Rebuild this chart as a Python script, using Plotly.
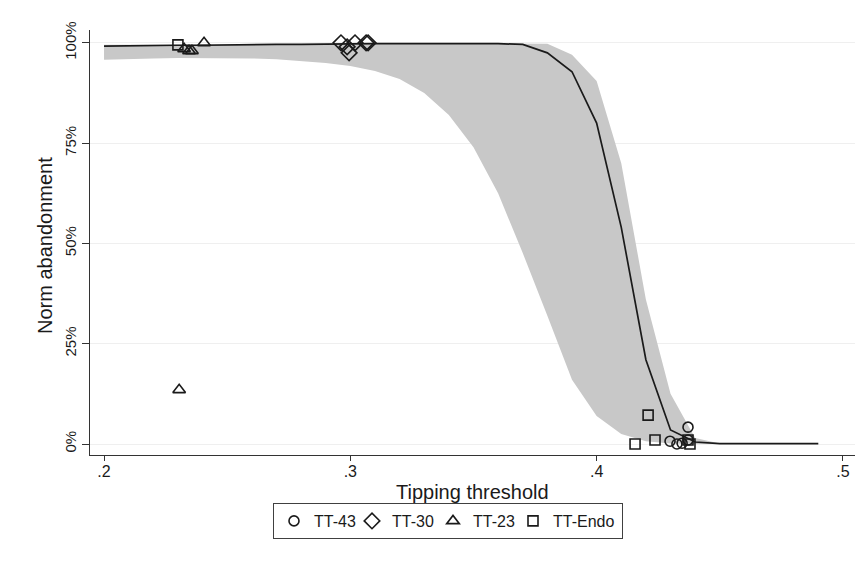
import plotly.graph_objects as go

# --- data -------------------------------------------------------------
grid_x = [0.20, 0.21, 0.22, 0.23, 0.24, 0.25, 0.26, 0.27, 0.28, 0.29,
          0.30, 0.31, 0.32, 0.33, 0.34, 0.35, 0.36, 0.37, 0.38, 0.39,
          0.40, 0.41, 0.42, 0.43, 0.44, 0.45, 0.46, 0.47, 0.48, 0.49]
fit_y = [99.2, 99.3, 99.3, 99.4, 99.4, 99.5, 99.5, 99.6, 99.6, 99.7,
         99.7, 99.8, 99.8, 99.8, 99.8, 99.8, 99.8, 99.6, 97.5, 92.8,
         80.0, 54.0, 21.0, 3.5, 0.5, 0.1, 0.1, 0.1, 0.1, 0.1]
band_hi = [99.5, 99.5, 99.6, 99.6, 99.6, 99.7, 99.7, 99.7, 99.8, 99.8,
           99.8, 99.9, 99.9, 99.9, 99.9, 99.9, 99.9, 99.9, 99.8, 97.0,
           90.5, 70.0, 36.0, 12.5, 1.5, 0.1, 0.0, 0.0, 0.0, 0.0]
band_lo = [95.8, 96.0, 96.1, 96.2, 96.2, 96.2, 96.1, 95.9, 95.5, 95.0,
           94.2, 93.0, 91.0, 87.5, 82.0, 74.0, 62.5, 47.6, 32.0, 16.0,
           7.0, 2.5, 0.7, 0.1, 0.0, 0.0, 0.0, 0.0, 0.0, 0.0]

tt43_x = [0.4298, 0.4326, 0.4347, 0.4371, 0.4371]
tt43_y = [0.7, 0.0, 0.2, 4.2, 1.0]
tt30_x = [0.2962, 0.2987, 0.2995, 0.3019, 0.3064, 0.3072]
tt30_y = [100.0, 99.0, 97.5, 100.0, 100.0, 100.0]
tt23_x = [0.2325, 0.2345, 0.2357, 0.2406, 0.2305]
tt23_y = [98.5, 98.0, 98.0, 100.0, 13.5]
endo_x = [0.2300, 0.4156, 0.4209, 0.4237, 0.4371, 0.4379]
endo_y = [99.5, 0.0, 7.2, 1.0, 1.0, 0.0]

x_ticks = [0.2, 0.3, 0.4, 0.5]
x_tick_labels = [".2", ".3", ".4", ".5"]
y_ticks = [0, 25, 50, 75, 100]
y_tick_labels = ["0%", "25%", "50%", "75%", "100%"]

FONT = "Liberation Sans, Arial, sans-serif"
INK = "#1a1a1a"

fig = go.Figure()

# confidence band
fig.add_trace(go.Scatter(x=grid_x, y=band_lo, mode="lines",
                         line=dict(width=0, color="#c8c8c8"),
                         showlegend=False, hoverinfo="skip"))
fig.add_trace(go.Scatter(x=grid_x, y=band_hi, mode="lines",
                         line=dict(width=0, color="#c8c8c8"),
                         fill="tonexty", fillcolor="#c8c8c8",
                         showlegend=False, hoverinfo="skip"))
# fitted line
fig.add_trace(go.Scatter(x=grid_x, y=fit_y, mode="lines",
                         line=dict(width=1.7, color=INK),
                         showlegend=False))

mk = dict(color=INK, width=1.6)
fig.add_trace(go.Scatter(x=tt43_x, y=tt43_y, mode="markers", name="TT-43", legendwidth=33,
                         marker=dict(symbol="circle-open", size=10, color=INK, line=mk)))
fig.add_trace(go.Scatter(x=tt30_x, y=tt30_y, mode="markers", name="TT-30", legendwidth=36,
                         marker=dict(symbol="diamond-open", size=12, color=INK, line=mk)))
fig.add_trace(go.Scatter(x=tt23_x, y=tt23_y, mode="markers", name="TT-23", legendwidth=35,
                         marker=dict(symbol="triangle-up-open", size=11, color=INK, line=mk)))
fig.add_trace(go.Scatter(x=endo_x, y=endo_y, mode="markers", name="TT-Endo", legendwidth=64,
                         marker=dict(symbol="square-open", size=10, color=INK, line=mk)))

L, R, T, B = 90, 13, 30, 129
W, H = 868, 584
ph = H - T - B
pw = W - L - R

fig.update_layout(
    width=W, height=H,
    margin=dict(l=L, r=R, t=T, b=B),
    paper_bgcolor="white", plot_bgcolor="white",
    font=dict(family=FONT, size=15, color=INK),
    legend=dict(orientation="h", traceorder="normal",
                x=(448 - L) / pw, xanchor="center",
                y=(H - B - 521) / ph, yanchor="middle",
                bordercolor="#404040", borderwidth=1,
                font=dict(size=16, family=FONT, color=INK),
                itemwidth=30, bgcolor="white"),
    xaxis=dict(range=[0.1943, 0.5049], tickvals=x_ticks, ticktext=x_tick_labels,
               showgrid=False, zeroline=False, showline=True, linecolor="#333333",
               linewidth=1, ticks="outside", ticklen=5, tickcolor="#333333",
               ticklabelstandoff=-3, tickfont=dict(size=16)),
    yaxis=dict(range=[-2.74, 103.2], tickvals=y_ticks, ticktext=y_tick_labels,
               showgrid=True, gridcolor="#efefef", gridwidth=1, zeroline=False,
               showline=True, linecolor="#333333", linewidth=1,
               ticks="outside", ticklen=7, tickcolor="#333333",
               tickangle=-90, tickfont=dict(size=15)),
    annotations=[
        dict(text="Tipping threshold", xref="paper", yref="paper",
             x=0.5, y=(H - B - 492) / ph, xanchor="center", yanchor="middle",
             showarrow=False, font=dict(size=20, family=FONT, color=INK)),
        dict(text="Norm abandonment", xref="paper", yref="paper",
             x=(45 - L) / pw, y=(H - B - 246) / ph, xanchor="center", yanchor="middle",
             textangle=-90, showarrow=False, font=dict(size=20, family=FONT, color=INK)),
    ],
)

fig.write_html("out.html")
